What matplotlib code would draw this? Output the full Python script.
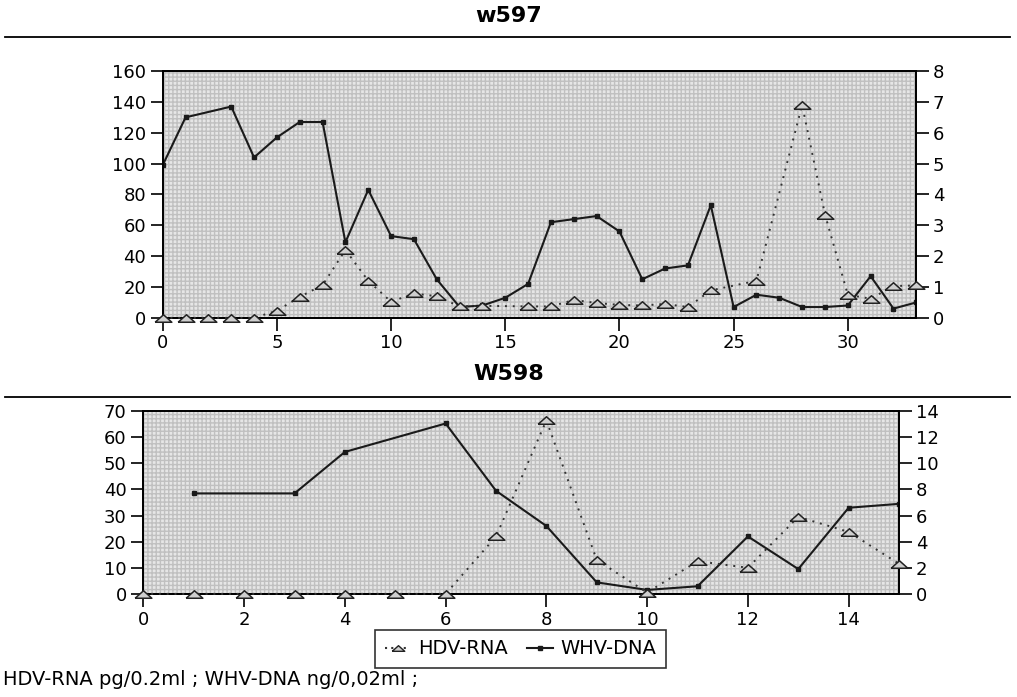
import numpy as np
import matplotlib.pyplot as plt
from matplotlib.patches import Rectangle
from matplotlib.lines import Line2D

plt.rcParams['font.family'] = ['DejaVu Sans']

# w597 data
whv1_x = [0, 1, 3, 4, 5, 6, 7, 8, 9, 10, 11, 12, 13, 14, 15, 16, 17, 18, 19, 20, 21, 22, 23, 24, 25, 26, 27, 28, 29, 30, 31, 32, 33]
whv1_y = [99, 130, 137, 104, 117, 127, 127, 49, 83, 53, 51, 25, 7, 8, 13, 22, 62, 64, 66, 56, 25, 32, 34, 73, 7, 15, 13, 7, 7, 8, 27, 6, 10]
hdv1_x = [0, 1, 2, 3, 4, 5, 6, 7, 8, 9, 10, 11, 12, 13, 14, 16, 17, 18, 19, 20, 21, 22, 23, 24, 26, 28, 29, 30, 31, 32, 33]
hdv1_y = [0, 0, 0, 0, 0, 0.23, 0.68, 1.06, 2.2, 1.2, 0.52, 0.79, 0.7, 0.37, 0.39, 0.37, 0.37, 0.58, 0.48, 0.42, 0.4, 0.45, 0.35, 0.89, 1.2, 6.9, 3.35, 0.75, 0.62, 1.03, 1.05]

# W598 data
whv2_x = [1, 3, 4, 6, 7, 8, 9, 10, 11, 12, 13, 14, 15]
whv2_y = [38.5, 38.5, 54.4, 65.3, 39.5, 26, 4.4, 1.5, 2.9, 22, 9.5, 33, 34.5]
hdv2_x = [0, 1, 2, 3, 4, 5, 6, 7, 8, 9, 10, 11, 12, 13, 14, 15]
hdv2_y = [0, 0, 0, 0, 0, 0, 0, 4.4, 13.3, 2.6, 0.1, 2.5, 2.0, 5.9, 4.75, 2.3]

# flat open triangle like the old print
tri = [(-1.0, -0.45), (1.0, -0.45), (0.0, 0.45), (-1.0, -0.45)]

fig = plt.figure(figsize=(10.17, 6.97), dpi=100)

def make_panel(rect, title, ty, ly, whv_x, whv_y, hdv_x, hdv_y, xmax, lmax, lstep, rmax, rstep, xstep):
    fig.text(0.5, ty, title, ha='center', va='center', fontsize=16, fontweight='bold')
    fig.add_artist(Line2D([0.005, 0.993], [ly, ly], color='black', lw=1.3))
    ax = fig.add_axes(rect)
    ax.set_facecolor('#e6e6e6')
    ax.add_patch(Rectangle((0, 0), 1, 1, transform=ax.transAxes, facecolor='none',
                           edgecolor='#c0c0c0', hatch='++++', lw=0, zorder=0))
    ax.plot(whv_x, whv_y, '-', color='#1a1a1a', lw=1.5, marker='s', ms=3.5, zorder=3)
    ax.set_xlim(0, xmax)
    ax.set_ylim(0, lmax)
    ax.set_yticks(np.arange(0, lmax + 1, lstep))
    ax.set_xticks(np.arange(0, xmax + 0.1, xstep))
    ax2 = ax.twinx()
    ax2.plot(hdv_x, hdv_y, linestyle=(0, (1, 3)), color='#333333', lw=1.4,
             marker=tri, ms=12, mfc='#cfcfcf', mec='#222222', mew=1.1, clip_on=False, zorder=4)
    ax2.set_ylim(0, rmax)
    ax2.set_yticks(np.arange(0, rmax + 1, rstep))
    for a in (ax, ax2):
        a.tick_params(direction='out', length=9, width=1.2, labelsize=13, pad=3)
        for s in a.spines.values():
            s.set_linewidth(1.3)
    return ax, ax2

make_panel([0.160, 0.544, 0.741, 0.354], 'w597', 0.977, 0.947,
           whv1_x, whv1_y, hdv1_x, hdv1_y, 33, 160, 20, 8, 1, 5)
make_panel([0.141, 0.148, 0.743, 0.262], 'W598', 0.463, 0.430,
           whv2_x, whv2_y, hdv2_x, hdv2_y, 15, 70, 10, 14, 2, 2)

handles = [Line2D([], [], linestyle=(0, (1, 2)), color='#333333', lw=1.5, marker=tri, ms=9,
                  mfc='#cfcfcf', mec='#222222'),
           Line2D([], [], color='#1a1a1a', lw=1.5, marker='s', ms=3)]
leg = fig.legend(handles, ['HDV-RNA', 'WHV-DNA'], loc='center', bbox_to_anchor=(0.512, 0.069),
                 ncol=2, fontsize=14, frameon=True, fancybox=False, edgecolor='black',
                 handlelength=1.3, handletextpad=0.4, columnspacing=1.0, borderpad=0.5)
leg.get_frame().set_linewidth(1.2)

fig.text(0.003, 0.011, 'HDV-RNA pg/0.2ml ; WHV-DNA ng/0,02ml ;', fontsize=14, ha='left', va='bottom')

fig.savefig('out.png', dpi=100)
